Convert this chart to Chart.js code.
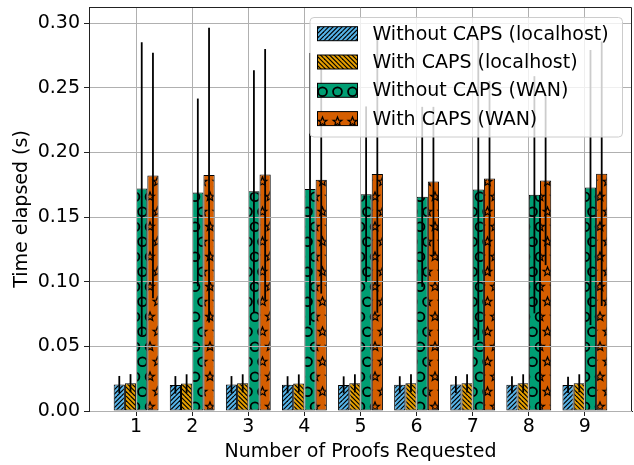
<!DOCTYPE html>
<html>
<head>
<meta charset="utf-8">
<script src="https://cdn.jsdelivr.net/npm/chart.js@4.4.0/dist/chart.umd.min.js"></script>
<style>
  html, body { margin: 0; padding: 0; background: #fff; }
</style>
</head>
<body>
<canvas id="chart" width="634" height="465"></canvas>
<script>
// data
const proofs = [1, 2, 3, 4, 5, 6, 7, 8, 9];
const yTicks = [0, 0.05, 0.10, 0.15, 0.20, 0.25, 0.30];
const seriesNames = ['Without CAPS (localhost)', 'With CAPS (localhost)', 'Without CAPS (WAN)', 'With CAPS (WAN)'];

const localNoCaps = [0.0205, 0.0202, 0.0204, 0.0203, 0.0202, 0.0203, 0.0204, 0.0203, 0.0202];
const localNoCapsErr = [0.0066, 0.0068, 0.0066, 0.0066, 0.0066, 0.0066, 0.0066, 0.0066, 0.0062];
const localCaps = [0.0215, 0.0212, 0.0214, 0.0213, 0.0214, 0.0215, 0.0214, 0.0214, 0.0214];
const localCapsErr = [0.0070, 0.0072, 0.0070, 0.0070, 0.0070, 0.0070, 0.0070, 0.0070, 0.0070];
const wanNoCaps = [0.1720, 0.1690, 0.1700, 0.1716, 0.1677, 0.1656, 0.1713, 0.1672, 0.1728];
const wanNoCapsErr = [0.1132, 0.0726, 0.0935, 0.1052, 0.0678, 0.0696, 0.1164, 0.0917, 0.1063];
const wanCaps = [0.1821, 0.1824, 0.1829, 0.1788, 0.1832, 0.1775, 0.1798, 0.1783, 0.1834];
const wanCapsErr = [0.0950, 0.1140, 0.0970, 0.0880, 0.1072, 0.0577, 0.0755, 0.0655, 0.1023];

Chart.defaults.font.family = "'DejaVu Sans', sans-serif";
Chart.defaults.color = '#000';

// hatch patterns (like matplotlib hatches)
function tile(w, h, bg) {
  const c = document.createElement('canvas');
  c.width = w; c.height = h;
  const g = c.getContext('2d');
  g.fillStyle = bg;
  g.fillRect(0, 0, w, h);
  g.strokeStyle = '#000';
  return [c, g];
}

function stripes(bg, dir) {
  const s = 4.5, T = 18;
  const [c, g] = tile(T, T, bg);
  g.lineWidth = 1.2;
  for (let k = -5; k <= 9; k++) {
    const x0 = k * s;
    g.beginPath();
    if (dir > 0) { g.moveTo(x0, T); g.lineTo(x0 + T, 0); }
    else { g.moveTo(x0, 0); g.lineTo(x0 + T, T); }
    g.stroke();
  }
  return c;
}

function lattice(bg, drawShape) {
  const W = 15, H = 30;
  const [c, g] = tile(W, H, bg);
  const pts = [[0, 16.7], [7.5, 1.7]];
  pts.forEach(([px, py]) => {
    for (let i = -1; i <= 1; i++) {
      for (let j = -1; j <= 1; j++) drawShape(g, px + i * W, py + j * H);
    }
  });
  return c;
}

function circle(g, x, y) {
  g.lineWidth = 1.8;
  g.beginPath();
  g.arc(x, y, 4.4, 0, Math.PI * 2);
  g.stroke();
}

function star(g, x, y) {
  g.lineWidth = 1.2;
  g.beginPath();
  for (let k = 0; k < 10; k++) {
    const r = k % 2 ? 2.0 : 4.7;
    const a = -Math.PI / 2 + k * Math.PI / 5;
    const px = x + r * Math.cos(a), py = y + r * Math.sin(a);
    if (k === 0) g.moveTo(px, py); else g.lineTo(px, py);
  }
  g.closePath();
  g.stroke();
}

const ctx = document.getElementById('chart').getContext('2d');
const tiles = [
  stripes('#56B4E9', 1),
  stripes('#E69F00', -1),
  lattice('#009E73', circle),
  lattice('#D55E00', star),
];
const fills = tiles.map(t => ctx.createPattern(t, 'repeat'));

const values = [localNoCaps, localCaps, wanNoCaps, wanCaps];
const errors = [localNoCapsErr, localCapsErr, wanNoCapsErr, wanCapsErr];

const datasets = seriesNames.map((name, k) => ({
  label: name,
  data: proofs.map((p, i) => ({ x: p, y: values[k][i] })),
  errors: errors[k],
  backgroundColor: fills[k],
  borderColor: '#000',
  borderWidth: 1,
  borderSkipped: false,
  categoryPercentage: 0.8,
  barPercentage: 1.0,
}));

// error bars, top/right frame and the boxed legend
const overlay = {
  id: 'overlay',
  afterDraw(chart) {
    const { ctx, chartArea: a, scales: { y } } = chart;
    ctx.save();

    ctx.strokeStyle = '#000';
    ctx.lineWidth = 1.8;
    chart.data.datasets.forEach((ds, di) => {
      const meta = chart.getDatasetMeta(di);
      meta.data.forEach((bar, i) => {
        const v = ds.data[i].y, e = ds.errors[i];
        ctx.beginPath();
        ctx.moveTo(bar.x, y.getPixelForValue(v - e));
        ctx.lineTo(bar.x, y.getPixelForValue(v + e));
        ctx.stroke();
      });
    });

    ctx.strokeStyle = '#222';
    ctx.lineWidth = 1;
    ctx.beginPath();
    ctx.moveTo(a.left, a.top + 0.5);
    ctx.lineTo(a.right - 0.5, a.top + 0.5);
    ctx.lineTo(a.right - 0.5, a.bottom);
    ctx.stroke();

    // legend
    const lx = a.right - 322, ly = a.top + 10.5, lw = 312.5, lh = 119.5;
    ctx.beginPath();
    ctx.roundRect(lx, ly, lw, lh, 4);
    ctx.fillStyle = 'rgba(255,255,255,0.8)';
    ctx.fill();
    ctx.strokeStyle = '#cccccc';
    ctx.lineWidth = 1;
    ctx.stroke();

    ctx.font = "19px 'DejaVu Sans'";
    ctx.textBaseline = 'middle';
    ctx.textAlign = 'left';
    seriesNames.forEach((name, k) => {
      const cy = ly + 16.2 + k * 28.3;
      ctx.fillStyle = fills[k];
      ctx.fillRect(lx + 7.5, cy - 7, 40, 14);
      ctx.strokeStyle = '#000';
      ctx.strokeRect(lx + 7.5, cy - 7, 40, 14);
      ctx.fillStyle = '#000';
      ctx.fillText(name, lx + 62.5, cy + 1);
    });

    ctx.restore();
  }
};

new Chart(ctx, {
  type: 'bar',
  data: { datasets },
  options: {
    responsive: false,
    animation: false,
    devicePixelRatio: 1,
    layout: { padding: { top: 7, right: 2, left: 0, bottom: 0 } },
    plugins: {
      legend: { display: false },
      tooltip: { enabled: false },
    },
    scales: {
      x: {
        type: 'linear',
        offset: false,
        min: 0.16,
        max: 9.84,
        afterBuildTicks: s => { s.ticks = proofs.map(v => ({ value: v })); },
        afterFit: s => { s.height = 54; s.paddingLeft = 0; s.paddingRight = 0; },
        grid: { offset: false, color: '#b0b0b0', lineWidth: 1, tickColor: '#222', tickLength: 5, z: 1 },
        border: { color: '#222', width: 1, z: 1 },
        ticks: { font: { size: 19 }, padding: 0, maxRotation: 0, autoSkip: false, callback: v => String(v) },
        title: { display: true, text: 'Number of Proofs Requested', font: { size: 19 }, padding: { top: 0, bottom: 1.5 } },
      },
      y: {
        min: 0,
        max: 0.3124,
        afterBuildTicks: s => { s.ticks = yTicks.map(v => ({ value: v })); },
        afterFit: s => { s.width = 89; s.paddingTop = 0; s.paddingBottom = 0; },
        grid: { color: '#b0b0b0', lineWidth: 1, tickColor: '#222', tickLength: 5, z: 1 },
        border: { color: '#222', width: 1, z: 1 },
        ticks: { font: { size: 19 }, padding: 4, callback: v => v.toFixed(2) },
        title: { display: true, text: 'Time elapsed (s)', font: { size: 19 }, padding: { top: 10.5, bottom: 0 } },
      },
    },
  },
  plugins: [overlay],
});
</script>
</body>
</html>
